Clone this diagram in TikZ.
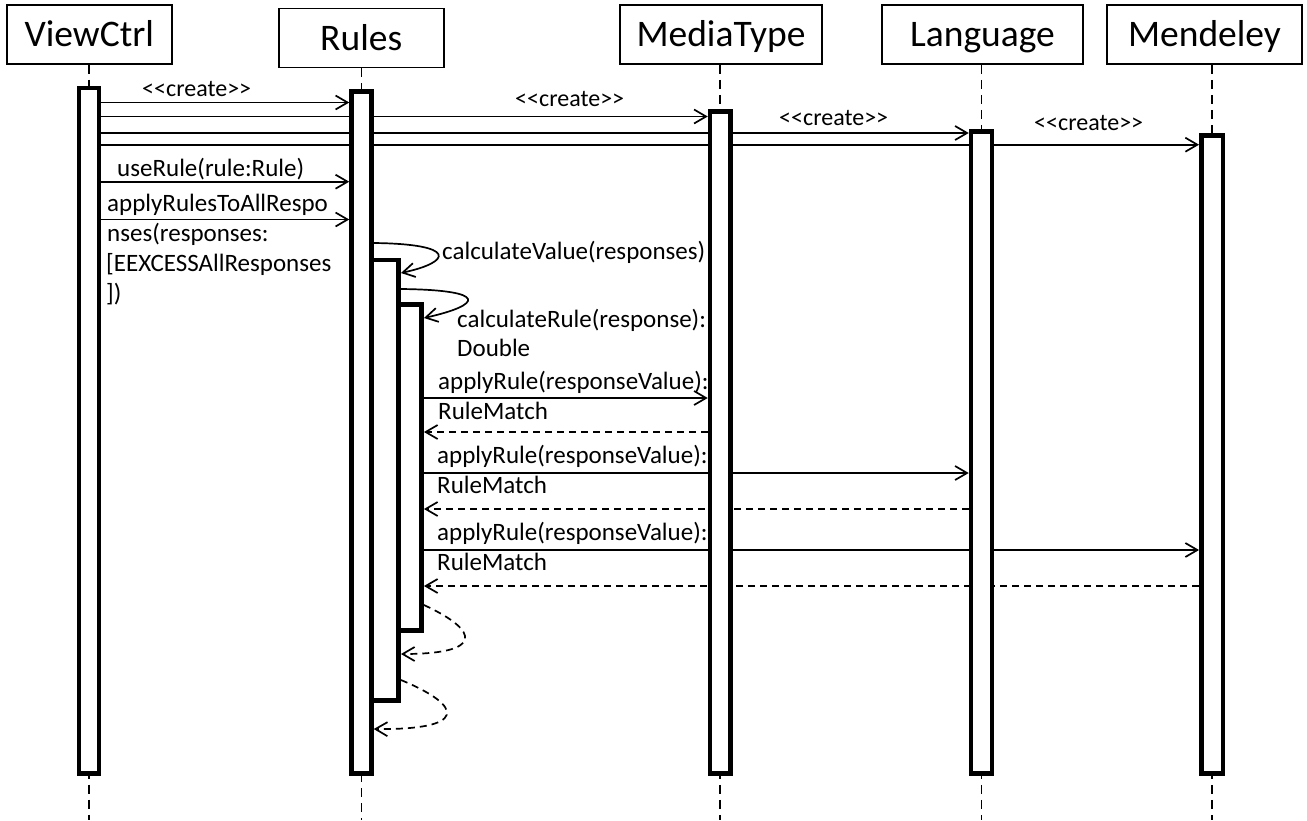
\documentclass[tikz,border=0pt]{standalone}
\usepackage{fontspec}
\setmainfont{Carlito}
\usetikzlibrary{arrows.meta,calc}
\pgfdeclarelayer{back}
\pgfsetlayers{back,main}
\begin{document}
\begin{tikzpicture}[x=1pt,y=-1pt,
  head/.style={draw, line width=1.8pt, font=\fontsize{37.5}{45}\selectfont, inner sep=0, minimum height=59pt, text height=27pt, text depth=2.4pt},
  actbar/.style={draw, fill=white, line width=4.5pt, inner sep=0, anchor=north west, xshift=-2.25pt, yshift=2.25pt},
  life/.style={line width=1.8pt, dash pattern=on 9pt off 6pt},
  msg/.style={line width=1.7pt, -{Straight Barb[length=12pt,width=14pt,line width=1.7pt]}},
  ret/.style={msg, dash pattern=on 7pt off 5pt},
  lbl/.style={font=\fontsize{25}{30}\selectfont, inner sep=0, anchor=base west},
  crl/.style={font=\fontsize{24}{29}\selectfont, inner sep=0, anchor=base west},
]
\useasboundingbox (0,0) rectangle (1307,820);
\coordinate (bottom) at (0,820);

% headers
\node[head, minimum width=164.7pt] (vch) at (89.3,34.3) {ViewCtrl};
\node[head, minimum width=165pt]   (ruh) at (361.2,38)  {Rules};
\node[head, minimum width=202pt]   (mth) at (721,34.5)  {MediaType};
\node[head, minimum width=201pt]   (lah) at (982.5,34.5) {Language};
\node[head, minimum width=195pt]   (meh) at (1204.5,34.5) {Mendeley};

% activation bars
\node[actbar, minimum width=20pt, minimum height=685.5pt] (vcb) at (79,88) {};
\node[actbar, minimum width=20pt, minimum height=681.8pt] (rub) at (351.5,91.7) {};
\node[actbar, minimum width=20.5pt, minimum height=661.8pt] (mtb) at (710,111.7) {};
\node[actbar, minimum width=21pt, minimum height=641.8pt] (lab) at (971,131.7) {};
\node[actbar, minimum width=21.5pt, minimum height=637.8pt] (meb) at (1201.3,135.7) {};
\node[actbar, minimum width=27.2pt, minimum height=440.5pt] (n1) at (371.5,260) {};
\node[actbar, minimum width=23pt, minimum height=326pt] (n2) at (398.7,304.5) {};

% message heights
\coordinate (y1) at (0,102.5);
\coordinate (y2) at (0,116.5);
\coordinate (y3) at (0,133);
\coordinate (y4) at (0,144.7);
\coordinate (y5) at (0,181.7);
\coordinate (y6) at (0,219.5);
\coordinate (cv1) at (0,243);
\coordinate (cv2) at (0,273);
\coordinate (cr1) at (0,289);
\coordinate (cr2) at (0,318);
\coordinate (y9) at (0,398);
\coordinate (y10) at (0,432);
\coordinate (y11) at (0,473);
\coordinate (y12) at (0,509);
\coordinate (y13) at (0,550);
\coordinate (y14) at (0,586);
\coordinate (r1a) at (0,605);
\coordinate (r1b) at (0,654);
\coordinate (r2a) at (0,680);
\coordinate (r2b) at (0,729);

\begin{pgfonlayer}{back}
  % lifelines
  \draw[life] (vcb |- vch.south) -- (vcb |- bottom);
  \draw[life] (rub |- ruh.south) -- (rub |- bottom);
  \draw[life] (mtb |- mth.south) -- (mtb |- bottom);
  \draw[life] (lab |- lah.south) -- (lab |- bottom);
  \draw[life] (meb |- meh.south) -- (meb |- bottom);
  % messages
  \draw[msg] (vcb.east |- y1) -- (rub.west |- y1);
  \draw[msg] (vcb.east |- y2) -- (mtb.west |- y2);
  \draw[msg] (vcb.east |- y3) -- (lab.west |- y3);
  \draw[msg] (vcb.east |- y4) -- (meb.west |- y4);
  \draw[msg] (vcb.east |- y5) -- (rub.west |- y5);
  \draw[msg] (vcb.east |- y6) -- (rub.west |- y6);
  \draw[msg] (n2.east |- y9) -- (mtb.west |- y9);
  \draw[ret] (mtb.west |- y10) -- (n2.east |- y10);
  \draw[msg] (n2.east |- y11) -- (lab.west |- y11);
  \draw[ret] (lab.west |- y12) -- (n2.east |- y12);
  \draw[msg] (n2.east |- y13) -- (meb.west |- y13);
  \draw[ret] (meb.west |- y14) -- (n2.east |- y14);
\end{pgfonlayer}

% self messages
\draw[msg] (rub.east |- cv1) .. controls (458,244) and (452,262) .. (n1.east |- cv2);
\draw[msg] (n1.east |- cr1) .. controls (490,290) and (482,305) .. (n2.east |- cr2);
\draw[ret] (n2.east |- r1a) .. controls (482,632) and (482,654) .. (n1.east |- r1b);
\draw[ret] (n1.east |- r2a) .. controls (466,707) and (466,730) .. (rub.east |- r2b);

% labels
\node[crl] (t1) at (142,96) {<\kern0pt<create>\kern0pt>};
\node[crl] (t2) at (515,106.7) {<\kern0pt<create>\kern0pt>};
\node[crl] (t3) at (779,125) {<\kern0pt<create>\kern0pt>};
\node[crl] (t4) at (1034,130) {<\kern0pt<create>\kern0pt>};
\node[lbl] (t5) at (117,176) {useRule(rule:Rule)};
\node[lbl] (t6a) at (107,211.7) {applyRulesToAllRespo};
\node[lbl] (t6b) at (107,241.7) {nses(responses:};
\node[lbl] (t6c) at (106,271.7) {[EEXCESSAllResponses};
\node[lbl] (t6d) at (106,301.7) {])};
\node[lbl] (t7) at (442,259) {calculateValue(responses)};
\node[lbl] (t8a) at (457,327.5) {calculateRule(response):};
\node[lbl] (t8b) at (457,356) {Double};
\node[lbl] (t9a) at (438,389) {applyRule(responseValue):};
\node[lbl] (t9b) at (438,419) {RuleMatch};
\node[lbl] (t11a) at (437,463) {applyRule(responseValue):};
\node[lbl] (t11b) at (437,493) {RuleMatch};
\node[lbl] (t13a) at (437,540) {applyRule(responseValue):};
\node[lbl] (t13b) at (437,570) {RuleMatch};
\end{tikzpicture}
\end{document}
